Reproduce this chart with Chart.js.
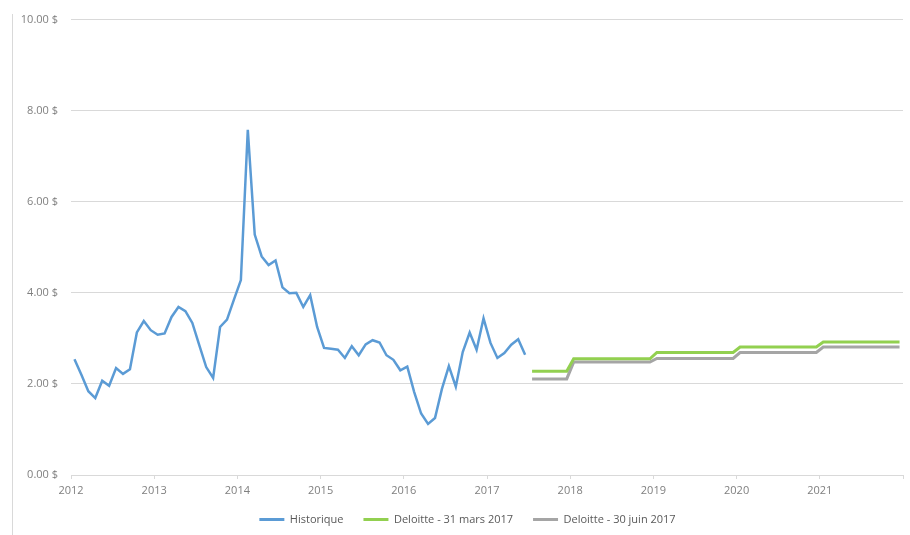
<!DOCTYPE html>
<html>
<head>
<meta charset="utf-8">
<script src="https://cdn.jsdelivr.net/npm/chart.js@4"></script>
<style>
    body { margin: 0; background: #fff; }
    #wrap { position: relative; width: 910px; height: 535px; }
    #edge { position: absolute; left: 12px; top: 14px; bottom: 0; border-left: 1px solid #d9d9d9; }
</style>
</head>
<body>
<div id="wrap">
    <div id="edge"></div>
    <canvas id="myChart" width="910" height="535"></canvas>
</div>
<script>
// Monthly history, Jan 2012 - Jun 2017
const historique = [
    2.54, 2.20, 1.84, 1.69, 2.07, 1.96, 2.35, 2.22, 2.32, 3.13, 3.38, 3.18,
    3.08, 3.11, 3.47, 3.69, 3.60, 3.34, 2.85, 2.37, 2.13, 3.25, 3.41, 3.85,
    4.28, 7.58, 5.28, 4.80, 4.61, 4.71, 4.12, 3.99, 4.00, 3.69, 3.95, 3.25,
    2.79, 2.77, 2.75, 2.57, 2.83, 2.63, 2.87, 2.96, 2.91, 2.63, 2.53, 2.30,
    2.38, 1.82, 1.35, 1.12, 1.25, 1.89, 2.39, 1.94, 2.70, 3.13, 2.75, 3.44,
    2.90, 2.57, 2.68, 2.86, 2.98, 2.64
];

// Forecast years (2017 covers Jul-Dec) and yearly levels
const forecastYears = [2017, 2018, 2019, 2020, 2021];
const deloitteMars = [2.28, 2.55, 2.69, 2.81, 2.92];
const deloitteJuin = [2.11, 2.48, 2.56, 2.69, 2.81];

const yTicks = [0, 2, 4, 6, 8, 10];
const startYear = 2012;

// month index -> position centred in its month
function monthX(i) { return startYear + (i + 0.5) / 12; }

function historyPoints(values) {
    return values.map((v, i) => ({ x: monthX(i), y: v }));
}

function forecastPoints(levels) {
    const pts = [];
    forecastYears.forEach((yr, k) => {
        const firstMonth = yr === 2017 ? 6 : 0;
        for (let m = firstMonth; m < 12; m++) {
            pts.push({ x: monthX((yr - startYear) * 12 + m), y: levels[k] });
        }
    });
    return pts;
}

// nudge the legend a bit right so it sits like the original
const legendShift = {
    id: 'legendShift',
    afterLayout(chart) {
        if (chart.legend) {
            chart.legend.left += 16;
            chart.legend.right += 16;
        }
    }
};

const ctx = document.getElementById('myChart').getContext('2d');
const fontFamily = '"Open Sans", "Noto Sans", sans-serif';

new Chart(ctx, {
    type: 'line',
    data: {
        datasets: [
            {
                label: 'Historique',
                data: historyPoints(historique),
                borderColor: '#5b9bd5',
                backgroundColor: '#5b9bd5',
                borderWidth: 2.5
            },
            {
                label: 'Deloitte - 31 mars 2017',
                data: forecastPoints(deloitteMars),
                borderColor: '#92d050',
                backgroundColor: '#92d050',
                borderWidth: 3
            },
            {
                label: 'Deloitte - 30 juin 2017',
                data: forecastPoints(deloitteJuin),
                borderColor: '#a5a5a5',
                backgroundColor: '#a5a5a5',
                borderWidth: 3
            }
        ]
    },
    options: {
        responsive: false,
        animation: false,
        tension: 0,
        elements: { point: { radius: 0 } },
        layout: { padding: { top: 17, right: 7, left: 0, bottom: 0 } },
        scales: {
            x: {
                type: 'linear',
                min: 2012,
                max: 2022,
                afterFit: (scale) => { scale.height = 19; },
                ticks: {
                    stepSize: 1,
                    padding: 5,
                    color: '#7f7f7f',
                    font: { family: fontFamily, size: 11 },
                    maxRotation: 0,
                    callback: (v) => (v >= 2022 ? '' : String(v))
                },
                grid: {
                    drawOnChartArea: false,
                    drawTicks: true,
                    tickLength: 4,
                    color: '#d9d9d9'
                },
                border: { display: false }
            },
            y: {
                min: 0,
                max: 10,
                afterFit: (scale) => { scale.width = 71; },
                afterBuildTicks: (scale) => { scale.ticks = yTicks.map(v => ({ value: v })); },
                ticks: {
                    padding: 13,
                    color: '#7f7f7f',
                    font: { family: fontFamily, size: 11 },
                    callback: (v) => v.toFixed(2) + ' $'
                },
                grid: { color: '#d9d9d9', drawTicks: false },
                border: { display: false }
            }
        },
        plugins: {
            legend: {
                position: 'bottom',
                labels: {
                    boxWidth: 25,
                    boxHeight: 3,
                    padding: 20,
                    color: '#595959',
                    font: { family: fontFamily, size: 11 },
                    generateLabels: (chart) => {
                        const items = Chart.defaults.plugins.legend.labels.generateLabels(chart);
                        items.forEach(it => { it.fillStyle = it.strokeStyle; it.lineWidth = 0; });
                        return items;
                    }
                }
            },
            tooltip: { enabled: false }
        }
    },
    plugins: [legendShift]
});
</script>
</body>
</html>
